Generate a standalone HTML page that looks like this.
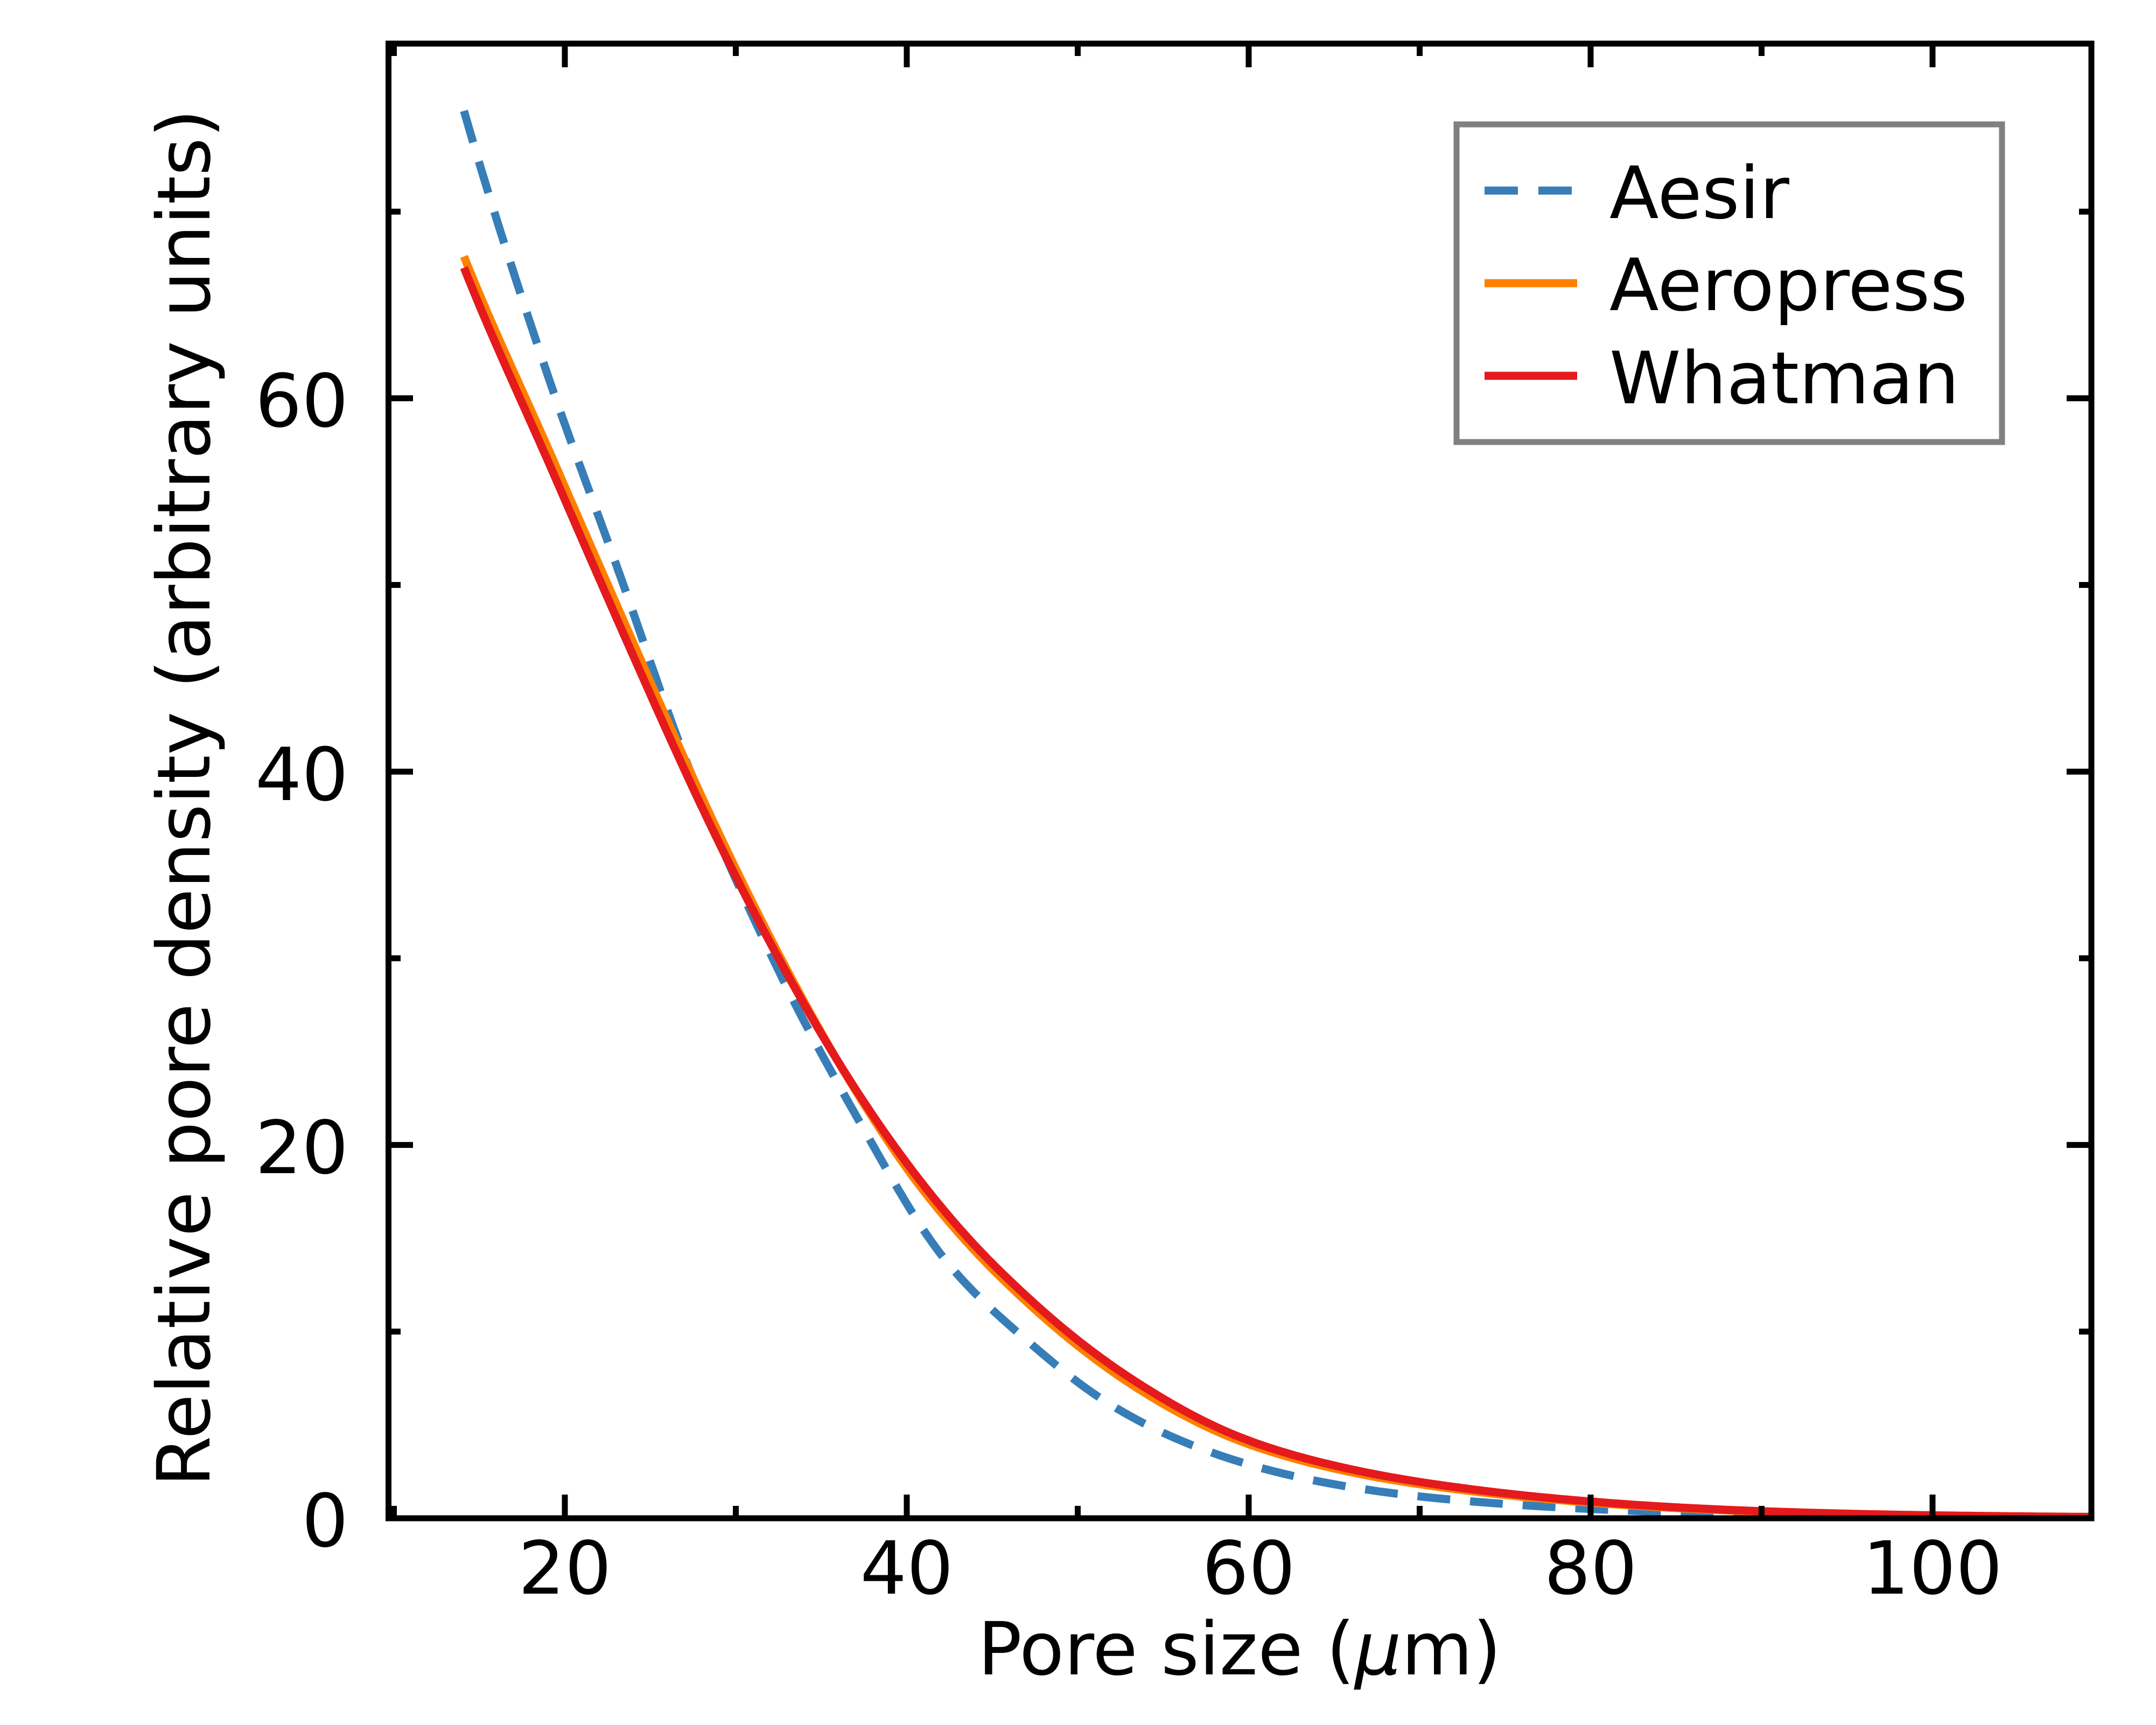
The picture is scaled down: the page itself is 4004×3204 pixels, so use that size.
<!DOCTYPE html>
<html><head><meta charset="utf-8"><style>
html,body{margin:0;padding:0;background:#fff;}
svg{display:block;}
text{font-family:"DejaVu Sans","Liberation Sans",sans-serif;fill:#000;}
</style></head><body>
<svg width="4004" height="3204" viewBox="0 0 4004 3204" xmlns="http://www.w3.org/2000/svg">
<defs><clipPath id="c"><rect x="721" y="81" width="3163" height="2739"/></clipPath></defs>
<g clip-path="url(#c)" fill="none" stroke-linejoin="round">
<path id="aesir" stroke="#377eb8" stroke-width="15" stroke-dasharray="61 37" d=""/>
<path id="orange" stroke="#ff7f00" stroke-width="15" d=""/>
<path id="red" stroke="#e41a1c" stroke-width="15" d=""/>
</g>
<g stroke="#000" stroke-width="11" id="ticks"></g>
<rect x="721.5" y="81" width="3162.5" height="2739" fill="none" stroke="#000" stroke-width="11"/>
<g font-size="136" text-anchor="middle">
<text x="1049" y="2960">20</text>
<text x="1684" y="2960">40</text>
<text x="2319" y="2960">60</text>
<text x="2954" y="2960">80</text>
<text x="3589" y="2960">100</text>
</g>
<g font-size="136" text-anchor="end">
<text x="647" y="2872">0</text>
<text x="647" y="2179">20</text>
<text x="647" y="1486">40</text>
<text x="647" y="792">60</text>
</g>
<text x="2302" y="3110" font-size="136" text-anchor="middle">Pore size (<tspan font-style="italic">μ</tspan>m)</text>
<text transform="translate(389,1482) rotate(-90)" font-size="136" text-anchor="middle">Relative pore density (arbitrary units)</text>
<rect x="2705" y="231" width="1013" height="590" fill="#fff" stroke="#808080" stroke-width="11"/>
<line x1="2757" y1="354" x2="2929" y2="354" stroke="#377eb8" stroke-width="15" stroke-dasharray="62 38"/>
<line x1="2757" y1="526" x2="2929" y2="526" stroke="#ff7f00" stroke-width="15"/>
<line x1="2757" y1="698" x2="2929" y2="698" stroke="#e41a1c" stroke-width="15"/>
<g font-size="134">
<text x="2989" y="405">Aesir</text>
<text x="2989" y="576">Aeropress</text>
<text x="2989" y="749">Whatman</text>
</g>
</svg>
<script>
function PX(x){return 731.5+(x-10)*31.75;}
function PY(v){return 2820-v*34.67;}
function curve(pts){
  var n=pts.length,xs=[],ys=[],i;
  for(i=0;i<n;i++){xs.push(pts[i][0]);ys.push(Math.log(pts[i][1]));}
  var d=[],m=[];
  for(i=0;i<n-1;i++)d.push((ys[i+1]-ys[i])/(xs[i+1]-xs[i]));
  m[0]=d[0];m[n-1]=d[n-2];
  for(i=1;i<n-1;i++){var h0=xs[i]-xs[i-1],h1=xs[i+1]-xs[i];m[i]=(d[i-1]*h1+d[i]*h0)/(h0+h1);}
  var s="",x,k=0;
  for(x=xs[0];x<=110.001;x+=0.2){
    while(k<n-2&&x>xs[k+1])k++;
    var h=xs[k+1]-xs[k],t=(x-xs[k])/h,t2=t*t,t3=t2*t;
    var y=(2*t3-3*t2+1)*ys[k]+(t3-2*t2+t)*h*m[k]+(-2*t3+3*t2)*ys[k+1]+(t3-t2)*h*m[k+1];
    s+=(s?" L":"M")+PX(x).toFixed(1)+","+PY(Math.exp(y)).toFixed(1);
  }
  return s;
}
var R=[[14.1,67.0],[19.7,55.2],[24.1,46.0],[28.8,36.6],[33.1,29.0],[37.35,22.5],[40.6,18.3],[43.8,14.8],[47.0,11.9],[50.2,9.4],[53.6,7.2],[60.2,4.1],[66.9,2.45],[73.5,1.5],[80.1,0.89],[90,0.38],[100,0.16],[110,0.07]];
var O=[[14.1,67.6],[19.7,55.9],[24.1,46.7],[28.8,37.1],[33.1,29.2],[37.35,22.4],[40.6,18.0],[43.8,14.5],[47.0,11.6],[50.2,9.1],[53.6,6.9],[60.2,3.9],[66.9,2.3],[73.5,1.4],[80.1,0.83],[90,0.35],[100,0.14],[110,0.06]];
var A=[[14.1,75.4],[18.9,61.5],[23.7,49.3],[27.0,40.8],[32.9,28.6],[37.7,20.5],[42.2,13.9],[47.7,9.0],[51.9,6.1],[57.6,3.6],[63.7,2.05],[69.9,1.18],[76.2,0.69],[90,0.2],[100,0.07],[110,0.025]];
document.getElementById("aesir").setAttribute("d",curve(A));
document.getElementById("orange").setAttribute("d",curve(O));
document.getElementById("red").setAttribute("d",curve(R));
var g=document.getElementById("ticks"),s="";
function L(x1,y1,x2,y2){s+='<line x1="'+x1+'" y1="'+y1+'" x2="'+x2+'" y2="'+y2+'"/>';}
for(var v=10;v<=100;v+=10){var x=731.5+(v-10)*31.75,len=(v%20==0)?44:23;L(x,2820,x,2820-len);L(x,81,x,81+len);}
for(var v=0;v<=70;v+=10){var y=2820-v*34.67,len=(v%20==0)?46:23;L(721,y,721+len,y);L(3884,y,3884-len,y);}
g.innerHTML=s;
</script>
</body></html>
